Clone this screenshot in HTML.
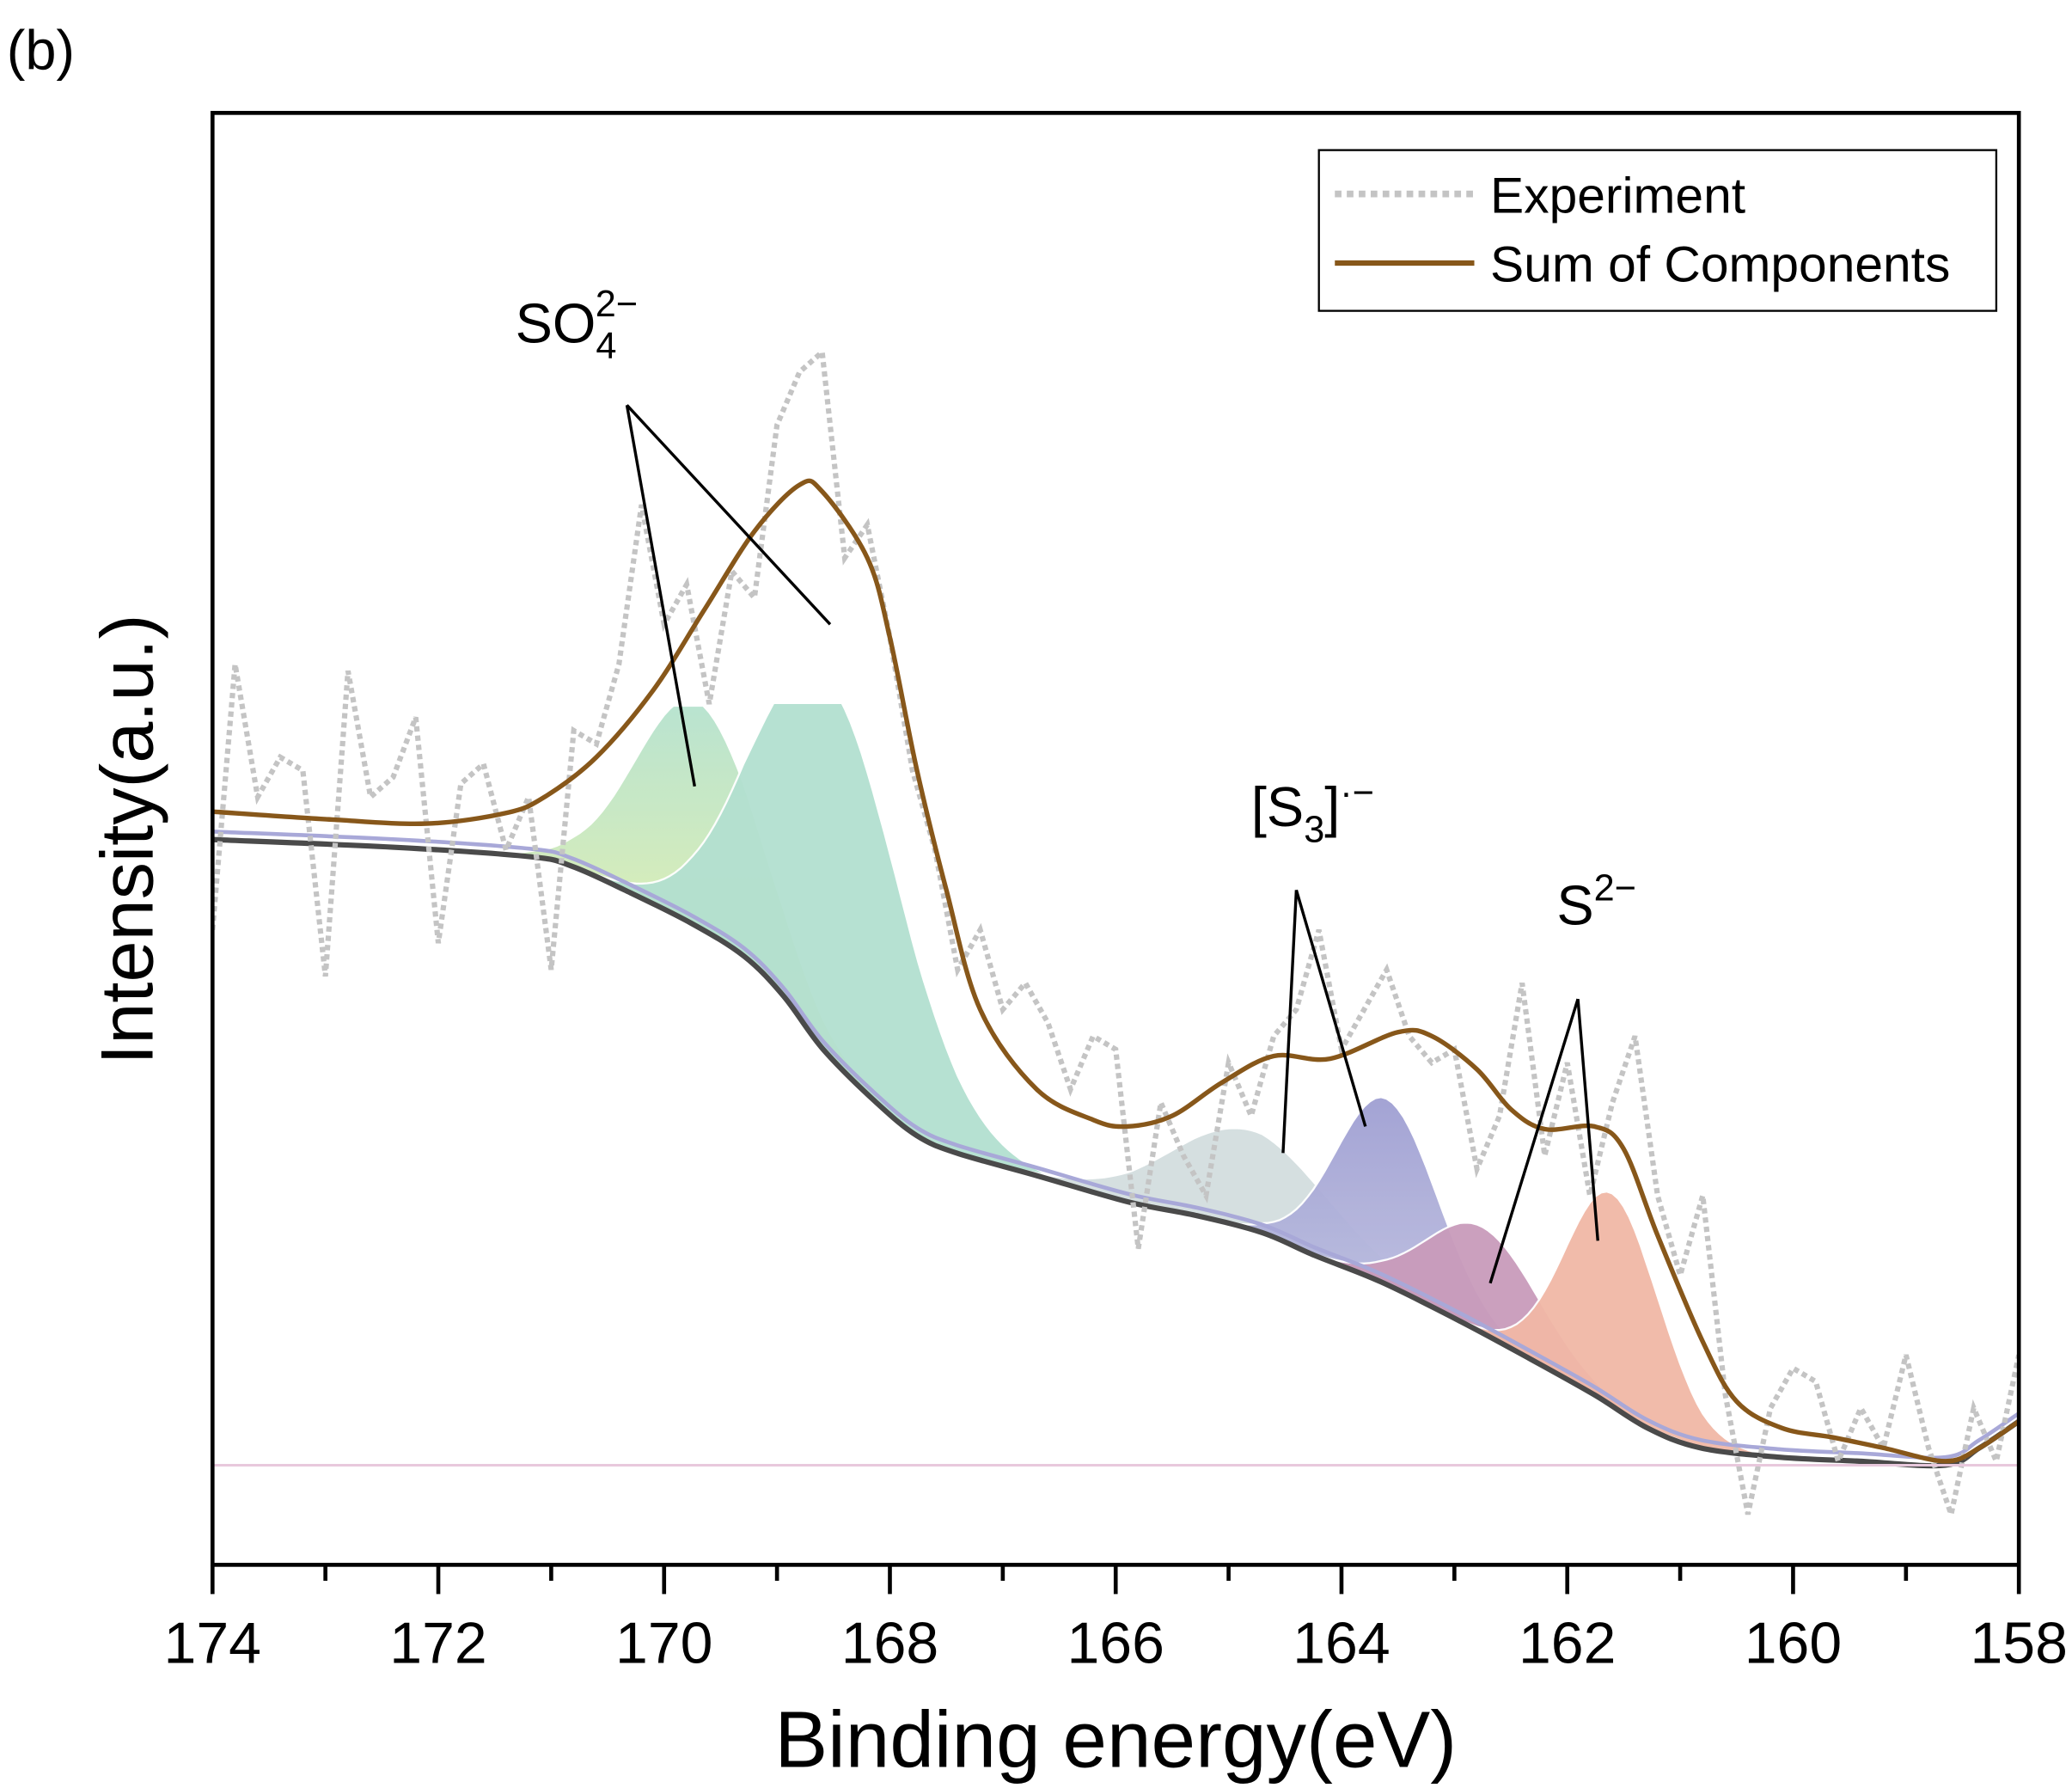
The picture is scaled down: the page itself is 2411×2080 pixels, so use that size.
<!DOCTYPE html>
<html><head><meta charset="utf-8"><style>
html,body{margin:0;padding:0;background:#fff;}
svg{display:block;font-family:"Liberation Sans",Arial,sans-serif;}
</style></head><body>
<svg id="chart" width="2411" height="2080" viewBox="0 0 1560 1346" preserveAspectRatio="none" xmlns="http://www.w3.org/2000/svg">
<defs>
<linearGradient id="gA" x1="0" y1="0" x2="0" y2="1"><stop offset="0" stop-color="#b5e2cf"/><stop offset="0.5" stop-color="#d6ecb6"/><stop offset="1" stop-color="#e2efb0"/></linearGradient>
<linearGradient id="gC2" x1="0" y1="0" x2="0" y2="1"><stop offset="0" stop-color="#9f9fd2"/><stop offset="1" stop-color="#c4c6e4"/></linearGradient>
<clipPath id="plotClip"><rect x="160" y="85" width="1360" height="1093"/></clipPath>
<clipPath id="clipB"><rect x="160" y="530" width="1360" height="648"/></clipPath>
<clipPath id="clipA"><rect x="160" y="532" width="1360" height="648"/></clipPath>
</defs>
<text x="5" y="52" font-size="42">(b)</text>
<g id="plot" clip-path="url(#plotClip)"></g>
<line x1="160" y1="1103" x2="1520" y2="1103" stroke="#e8c8dc" stroke-width="2"/>
<rect x="160" y="85" width="1360" height="1093" fill="none" stroke="#000" stroke-width="3"/>
<g id="xaxis"></g>
<text x="840" y="1330" font-size="60" text-anchor="middle">Binding energy(eV)</text>
<text transform="translate(115,632) rotate(-90)" font-size="56" text-anchor="middle">Intensity(a.u.)</text>
<g stroke="#000" stroke-width="2.2">
<line x1="472" y1="305" x2="523" y2="592"/><line x1="472" y1="305" x2="625" y2="470"/></g>
<text x="388" y="258" font-size="42">SO<tspan font-size="28" dy="12">4</tspan><tspan font-size="28" dx="-16" dy="-32">2−</tspan></text>
<g stroke="#000" stroke-width="2.2">
<line x1="976" y1="670" x2="966" y2="868"/><line x1="976" y1="670" x2="1028" y2="848"/></g>
<text x="942" y="622" font-size="42">[S<tspan font-size="28" dy="12">3</tspan><tspan dy="-12">]</tspan><tspan font-size="28" dy="-16">·−</tspan></text>
<g stroke="#000" stroke-width="2.2">
<line x1="1188" y1="752" x2="1122" y2="966"/><line x1="1188" y1="752" x2="1203" y2="934"/></g>
<text x="1172" y="696" font-size="42">S<tspan font-size="28" dy="-18">2−</tspan></text>
<g>
<rect x="993" y="113" width="510" height="121" fill="#fff" stroke="#000" stroke-width="1.5"/>
<line x1="1005" y1="146" x2="1110" y2="146" stroke="#c4c4c4" stroke-width="5" stroke-dasharray="5,4"/>
<text x="1122" y="160" font-size="38">Experiment</text>
<line x1="1005" y1="198" x2="1110" y2="198" stroke="#87571a" stroke-width="4"/>
<text x="1122" y="212" font-size="38">Sum of Components</text>
</g>
</svg>
<script>
const expStart = 174, expStep = -0.2;
const expValues = [500,700,600,630,620,465,695,600,615,660,490,610,625,560,600,470,650,640,700,820,730,760,670,770,750,880,920,935,780,805,720,620,560,470,500,440,460,430,380,420,410,260,370,330,300,400,360,420,440,500,410,440,470,420,400,410,320,360,460,330,400,300,370,420,300,240,300,150,60,140,170,160,100,140,110,180,110,60,140,100,180];
const sumEnergies = [174,172.94,172.1,171.4,171.06,170.6,170.1,169.65,169.2,168.8,168.6,168.2,168.0,167.76,167.5,167.2,166.7,166.2,165.9,165.5,165.06,164.6,164.1,163.5,163.2,162.8,162.5,162.2,161.76,161.5,161.2,160.8,160.5,160.1,159.65,159.2,158.65,158.35,158.0];
const sumValues = [589,583,580,588,600,630,680,740,800,835,830,780,720,620,530,440,380,357,352,360,385,405,403,423,420,395,365,350,352,335,270,190,145,125,118,110,100,110,130];
const bgEnergies = [174,172.35,171.18,170.82,170.35,169.76,169.29,168.94,168.59,168.12,167.76,167.41,166.7,165.88,165.29,164.7,164.24,163.65,162.94,162.35,161.76,161.29,160.82,160.12,159.41,158.65,158.35,158.0];
const bgValues = [568,562,555,548,530,505,480,450,410,370,345,332,315,295,285,272,255,235,205,178,150,125,110,103,100,97,110,130];
const compNames = ["so4-a","so4-b","s3-a","s3-b","s2-a","s2-b"];
const compCenters = [169.7,168.55,164.8,163.6,162.75,161.6];
const compAmps = [170,280,75,140,80,160];
const compSigmas = [0.55,0.65,0.7,0.45,0.5,0.42];
const compFills = ["url(#gA)","#b3e0d0","#d3dedf","url(#gC2)","#c99bbb","#f1b8a6"];
const compClips = ["url(#clipA)","url(#clipB)","","","",""];
const xTicks = [174,172,170,168,166,164,162,160,158];
const xMinor = [173,171,169,167,165,163,161,159];

const NS="http://www.w3.org/2000/svg";
const X = e => 160 + (174 - e) * 85;
const Y = v => 1200 - v;
function bg(e){
  for(let i=0;i<bgEnergies.length-1;i++){
    const a=bgEnergies[i],b=bgEnergies[i+1];
    if(e<=a&&e>=b){const t=(a-e)/(a-b);return bgValues[i]+t*(bgValues[i+1]-bgValues[i]);}
  }
  return bgValues[bgValues.length-1];
}
function smooth(pts){
  let d='M'+pts[0][0]+','+pts[0][1];
  for(let i=0;i<pts.length-1;i++){
    const p0=pts[Math.max(0,i-1)],p1=pts[i],p2=pts[i+1],p3=pts[Math.min(pts.length-1,i+2)];
    const c1x=p1[0]+(p2[0]-p0[0])/6,c1y=p1[1]+(p2[1]-p0[1])/6;
    const c2x=p2[0]-(p3[0]-p1[0])/6,c2y=p2[1]-(p3[1]-p1[1])/6;
    d+=' C'+c1x.toFixed(1)+','+c1y.toFixed(1)+' '+c2x.toFixed(1)+','+c2y.toFixed(1)+' '+p2[0].toFixed(1)+','+p2[1].toFixed(1);
  }
  return d;
}
const plot=document.getElementById('plot');
function mk(tag,attrs){const el=document.createElementNS(NS,tag);for(const k in attrs)el.setAttribute(k,attrs[k]);return el;}

compCenters.forEach((c,k)=>{
  let top=[],bot=[];
  for(let e=174;e>=158-1e-9;e-=0.05){
    const b=bg(e);const g=compAmps[k]*Math.exp(-Math.pow(e-c,2)/(2*compSigmas[k]*compSigmas[k]));
    if(g<1)continue;
    top.push(X(e).toFixed(1)+','+Y(b+g).toFixed(1));
    bot.unshift(X(e).toFixed(1)+','+Y(b).toFixed(1));
  }
  const p=mk('polygon',{points:top.concat(bot).join(' '),fill:compFills[k],stroke:'#fff','stroke-width':1.5,opacity:0.95});
  if(compClips[k])p.setAttribute('clip-path',compClips[k]);
  
  
  plot.appendChild(p);
});

const bgPts=bgEnergies.map((e,i)=>[X(e),Y(bgValues[i])]);
const bgPath2=mk('path',{d:smooth(bgPts.map(p=>[p[0],p[1]-6])),fill:'none',stroke:'#a8a8d8','stroke-width':3});


plot.appendChild(bgPath2);
const bgPath=mk('path',{d:smooth(bgPts),fill:'none',stroke:'#4a4a4a','stroke-width':4});


plot.appendChild(bgPath);

const expPts=expValues.map((v,i)=>X(expStart+expStep*i).toFixed(1)+','+Y(v).toFixed(1)).join(' ');
const ex=mk('polyline',{points:expPts,fill:'none',stroke:'#c4c4c4','stroke-width':4,'stroke-dasharray':'4,3'});


plot.appendChild(ex);

const sm=mk('path',{d:smooth(sumEnergies.map((e,i)=>[X(e),Y(sumValues[i])])),fill:'none',stroke:'#87571a','stroke-width':3.5,'stroke-linejoin':'round'});


plot.appendChild(sm);

const xa=document.getElementById('xaxis');
xTicks.forEach(t=>{
  const l=mk('line',{x1:X(t),x2:X(t),y1:1178,y2:1200,stroke:'#000','stroke-width':3});
  
  
  xa.appendChild(l);
  const tx=mk('text',{x:X(t),y:1252,'font-size':44,'text-anchor':'middle'});
  tx.textContent=t;
  
  
  xa.appendChild(tx);
});
xMinor.forEach(t=>{
  const l=mk('line',{x1:X(t),x2:X(t),y1:1178,y2:1190,stroke:'#000','stroke-width':3});
  
  
  xa.appendChild(l);
});
</script>
</body></html>
